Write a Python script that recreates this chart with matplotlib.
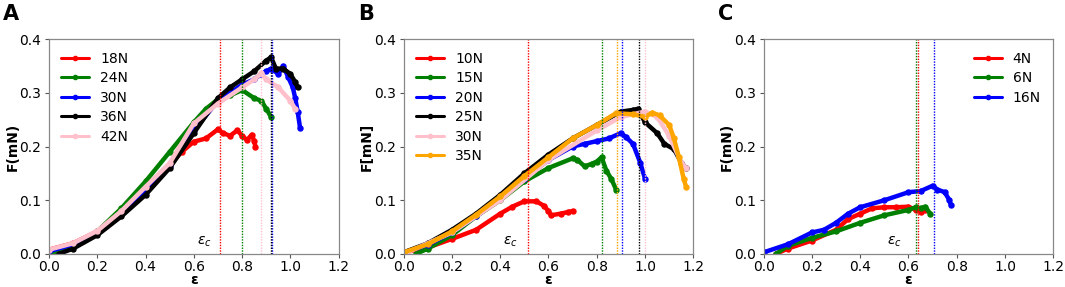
import matplotlib

matplotlib.use("Agg")
import matplotlib.pyplot as plt

plt.rcParams.update(
    {
        "font.family": "DejaVu Sans",
        "font.size": 10,
        "axes.edgecolor": "#888888",
        "axes.linewidth": 0.9,
        "xtick.color": "#555555",
        "ytick.color": "#555555",
        "xtick.labelcolor": "black",
        "ytick.labelcolor": "black",
        "xtick.major.size": 3.0,
        "ytick.major.size": 3.0,
        "xtick.major.pad": 1.5,
        "ytick.major.pad": 2.5,
    }
)

# ---- panel A ----
A_LABELS = ["18N", "24N", "30N", "36N", "42N"]
A_COLORS = ["red", "green", "blue", "black", "pink"]
A_X = [
    [0.0, 0.1, 0.2, 0.3, 0.4, 0.5, 0.55, 0.6, 0.65, 0.7, 0.72, 0.75, 0.78, 0.8, 0.82, 0.84, 0.85, 0.855],
    [0.0, 0.05, 0.1, 0.2, 0.3, 0.4, 0.5, 0.6, 0.65, 0.7, 0.75, 0.8, 0.85, 0.88, 0.9, 0.92],
    [0.0, 0.1, 0.2, 0.3, 0.4, 0.5, 0.6, 0.7, 0.8, 0.85, 0.88, 0.9, 0.92, 0.95, 0.97, 0.99, 1.01, 1.02, 1.03, 1.04],
    [0.04, 0.1, 0.2, 0.3, 0.4, 0.5, 0.6, 0.7, 0.75, 0.8, 0.85, 0.9, 0.92, 0.94, 0.97, 1.0, 1.02, 1.03],
    [0.0, 0.1, 0.2, 0.3, 0.4, 0.5, 0.6, 0.7, 0.8, 0.85, 0.88, 0.9, 0.95, 1.0, 1.02],
]
A_Y = [
    [0.008, 0.02, 0.042, 0.078, 0.122, 0.166, 0.19, 0.209, 0.215, 0.232, 0.225, 0.22, 0.23, 0.22, 0.212, 0.222, 0.21, 0.2],
    [0.0, 0.005, 0.015, 0.042, 0.085, 0.135, 0.19, 0.245, 0.27, 0.288, 0.295, 0.305, 0.29, 0.285, 0.27, 0.255],
    [0.005, 0.018, 0.04, 0.075, 0.118, 0.163, 0.23, 0.285, 0.315, 0.325, 0.335, 0.34, 0.345, 0.335, 0.35, 0.33, 0.31, 0.29, 0.265, 0.235],
    [0.0, 0.01, 0.035, 0.07, 0.11, 0.16, 0.225, 0.29, 0.31, 0.325, 0.34, 0.36, 0.366, 0.345, 0.345, 0.335, 0.32, 0.31],
    [0.008, 0.02, 0.043, 0.08, 0.125, 0.169, 0.243, 0.28, 0.31, 0.325, 0.336, 0.325, 0.31, 0.285, 0.27],
]
A_EC = [0.71, 0.80, 0.925, 0.92, 0.88]

# ---- panel B ----
B_LABELS = ["10N", "15N", "20N", "25N", "30N", "35N"]
B_COLORS = ["red", "green", "blue", "black", "pink", "orange"]
B_X = [
    [0.0, 0.1, 0.2, 0.3, 0.4, 0.45, 0.5, 0.55, 0.58, 0.6, 0.61, 0.65, 0.68, 0.7],
    [0.05, 0.1, 0.2, 0.3, 0.4, 0.5, 0.6, 0.7, 0.72, 0.75, 0.78, 0.8, 0.82, 0.84, 0.86, 0.88],
    [0.0, 0.1, 0.2, 0.3, 0.4, 0.5, 0.6, 0.7, 0.75, 0.8, 0.85, 0.9, 0.92, 0.95, 0.98, 1.0],
    [0.0, 0.1, 0.2, 0.3, 0.4, 0.5, 0.6, 0.7, 0.8, 0.9, 0.95, 0.97, 1.0, 1.05, 1.08, 1.12, 1.15, 1.17],
    [0.0, 0.2, 0.4, 0.6, 0.8, 0.9, 1.0, 1.05, 1.1, 1.15, 1.17],
    [0.0, 0.1, 0.2, 0.3, 0.4, 0.5, 0.6, 0.7, 0.8, 0.88, 0.95, 1.0, 1.03, 1.06, 1.1, 1.12, 1.14, 1.16, 1.17],
]
B_Y = [
    [0.003, 0.012, 0.028, 0.045, 0.075, 0.088, 0.098, 0.098, 0.09, 0.08, 0.072, 0.075, 0.078, 0.08],
    [0.0, 0.01, 0.035, 0.07, 0.1, 0.135, 0.16, 0.178, 0.175, 0.163, 0.168, 0.172, 0.18, 0.155, 0.14, 0.12],
    [0.003, 0.017, 0.04, 0.07, 0.102, 0.14, 0.175, 0.2, 0.205, 0.21, 0.215, 0.225, 0.218, 0.205, 0.17, 0.14],
    [0.003, 0.02, 0.045, 0.075, 0.11, 0.15, 0.185, 0.215, 0.24, 0.265, 0.268, 0.27, 0.245, 0.225, 0.205, 0.195, 0.17, 0.16],
    [0.0, 0.04, 0.1, 0.175, 0.23, 0.255, 0.265, 0.255, 0.22, 0.17, 0.16],
    [0.003, 0.018, 0.042, 0.073, 0.107, 0.145, 0.18, 0.215, 0.24, 0.262, 0.26, 0.255, 0.263, 0.258, 0.24, 0.215, 0.18, 0.14, 0.125],
]
B_EC = [0.515, 0.82, 0.905, 0.975, 1.0, 0.885]

# ---- panel C ----
C_LABELS = ["4N", "6N", "16N"]
C_COLORS = ["red", "green", "blue"]
C_X = [
    [0.05, 0.1, 0.2, 0.3, 0.35, 0.4, 0.45, 0.5, 0.55, 0.6, 0.63, 0.65, 0.67],
    [0.05, 0.1, 0.2, 0.3, 0.4, 0.5, 0.6, 0.63, 0.65, 0.67, 0.69],
    [0.0, 0.1, 0.2, 0.25, 0.3, 0.35, 0.4, 0.5, 0.6, 0.65, 0.7, 0.72, 0.75, 0.77, 0.775],
]
C_Y = [
    [0.0, 0.01, 0.025, 0.045, 0.065, 0.075, 0.085, 0.087, 0.087, 0.088, 0.082, 0.078, 0.082],
    [0.0, 0.015, 0.03, 0.042, 0.058, 0.072, 0.082, 0.087, 0.085, 0.088, 0.075],
    [0.003, 0.018, 0.04, 0.045, 0.058, 0.075, 0.087, 0.1, 0.115, 0.117, 0.127, 0.12, 0.115, 0.1, 0.092],
]
C_EC = [0.64, 0.63, 0.705]

PANELS = [
    ("A", "F(mN)", A_LABELS, A_COLORS, A_X, A_Y, A_EC, "upper left", 0.615),
    ("B", "F[mN]", B_LABELS, B_COLORS, B_X, B_Y, B_EC, "upper left", 0.41),
    ("C", "F(mN)", C_LABELS, C_COLORS, C_X, C_Y, C_EC, "upper right", 0.51),
]

fig = plt.figure(figsize=(10.65, 2.87), dpi=100)
lefts = [0.046, 0.379, 0.717]
for left, (tag, ylabel, labels, colors, xs, ys, ecs, loc, ec_x) in zip(lefts, PANELS):
    ax = fig.add_axes([left, 0.115, 0.272, 0.749])
    for lab, col, x, y in zip(labels, colors, xs, ys):
        ax.plot(x, y, color=col, lw=3.2, marker="o", markersize=3.6, solid_capstyle="round", label=lab)
    for col, e in zip(colors, ecs):
        ax.axvline(e, color=col, ls=(0, (1, 1)), lw=1.0)
    ax.text(ec_x, 0.018, r"$\varepsilon_c$", fontsize=10)
    ax.set_xlim(0.0, 1.2)
    ax.set_ylim(0.0, 0.4)
    ax.set_xticks([0.0, 0.2, 0.4, 0.6, 0.8, 1.0, 1.2])
    ax.set_yticks([0.0, 0.1, 0.2, 0.3, 0.4])
    ax.set_xlabel("ε", fontweight="bold", labelpad=-1)
    ax.set_ylabel(ylabel, fontweight="bold", labelpad=0)
    leg = ax.legend(loc=loc, frameon=False, handlelength=2.0, labelspacing=0.4, fontsize=10)
    for line in leg.get_lines():
        line.set_linewidth(2.2)
        line.set_markersize(3.0)
    fig.text(left - 0.043, 0.93, tag, fontsize=15, fontweight="bold")

fig.savefig("out.png", dpi=100)
